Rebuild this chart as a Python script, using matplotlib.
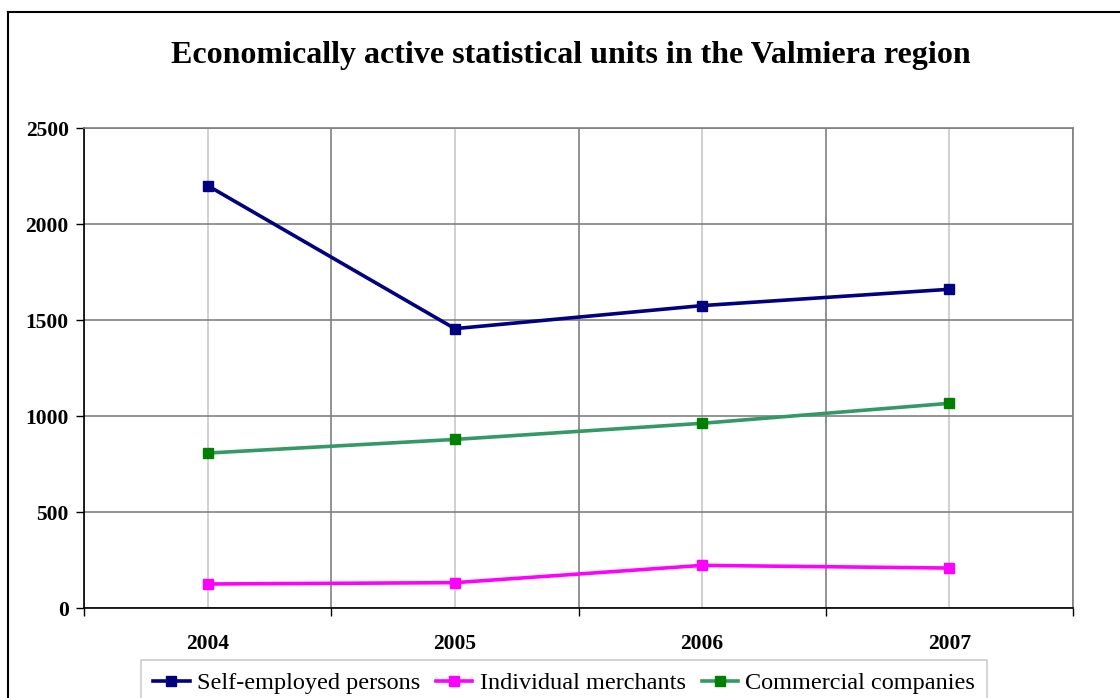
import matplotlib
matplotlib.use("Agg")
import matplotlib.pyplot as plt
from matplotlib.lines import Line2D

years = ["2004", "2005", "2006", "2007"]
self_employed = [2200, 1455, 1575, 1660]
individual_merchants = [125, 132, 222, 208]
commercial_companies = [807, 878, 962, 1066]
series_names = ["Self-employed persons", "Individual merchants", "Commercial companies"]
yticks = [0, 500, 1000, 1500, 2000, 2500]

W, H = 1120, 698
fig = plt.figure(figsize=(W / 100, H / 100), dpi=100)
serif = ["Liberation Serif", "DejaVu Serif"]

# plot area in pixels
L, R, T, B = 84, 1073, 128, 608
ax = fig.add_axes([L / W, 1 - B / H, (R - L) / W, (B - T) / H])

x = list(range(len(years)))
ax.plot(x, self_employed, color="#000080", lw=2.6, marker="s", ms=7.5,
        mfc="#000080", mec="#000080", label=series_names[0], zorder=5)
ax.plot(x, individual_merchants, color="#FF00FF", lw=2.6, marker="s", ms=7.5,
        mfc="#FF00FF", mec="#FF00FF", label=series_names[1], zorder=5)
ax.plot(x, commercial_companies, color="#339966", lw=2.6, marker="s", ms=7.5,
        mfc="#008000", mec="#008000", label=series_names[2], zorder=5)

ax.set_xlim(-0.5, len(years) - 0.5)
ax.set_ylim(0, 2500)
ax.set_yticks(yticks)
ax.set_yticklabels([str(v) for v in yticks], fontfamily=serif, fontweight="bold", fontsize=15.5)

ax.set_xticks([i - 0.5 for i in range(len(years) + 1)])
ax.set_xticklabels([])
ax.set_xticks(x, minor=True)
ax.set_xticklabels(years, minor=True, fontfamily=serif, fontweight="bold", fontsize=15.5)
ax.tick_params(axis="x", which="major", length=6, width=1, direction="out")
ax.tick_params(axis="x", which="minor", length=0, pad=19)
ax.tick_params(axis="y", length=6, width=1, direction="out", pad=5)

ax.grid(True, axis="y", color="#808080", lw=1.2)
ax.grid(True, axis="x", which="major", color="#808080", lw=1.2)
ax.grid(True, axis="x", which="minor", color="#c8c8c8", lw=1.2)
ax.set_axisbelow(True)

for s in ["left", "bottom"]:
    ax.spines[s].set_color("black")
    ax.spines[s].set_linewidth(1.2)
for s in ["top", "right"]:
    ax.spines[s].set_color("#808080")
    ax.spines[s].set_linewidth(1.2)

fig.text(571 / W, 1 - 55 / H, "Economically active statistical units in the Valmiera region",
         ha="center", va="center", fontfamily=serif, fontweight="bold", fontsize=23)

handles = [Line2D([], [], color="#000080", lw=2.6, marker="s", ms=6.5, mfc="#000080", mec="#000080"),
           Line2D([], [], color="#FF00FF", lw=2.6, marker="s", ms=6.5, mfc="#FF00FF", mec="#FF00FF"),
           Line2D([], [], color="#339966", lw=2.6, marker="s", ms=6.5, mfc="#008000", mec="#008000")]
leg = fig.legend(handles, series_names, loc="upper left",
                 bbox_to_anchor=(141 / W, 1 - 660 / H), ncol=3,
                 prop={"family": serif, "size": 17.5}, frameon=True, fancybox=False,
                 edgecolor="#c0c0c0", borderpad=0.5, handlelength=1.5,
                 handletextpad=0.3, columnspacing=0.65, borderaxespad=0)
leg.get_frame().set_linewidth(1.2)

# outer chart border (partially cropped)
fig.add_artist(Line2D([8 / W, 8 / W], [0, 1 - 12 / H], transform=fig.transFigure, color="black", lw=1.5))
fig.add_artist(Line2D([8 / W, 1], [1 - 12 / H, 1 - 12 / H], transform=fig.transFigure, color="black", lw=1.5))

fig.savefig("out.png", dpi=100)
